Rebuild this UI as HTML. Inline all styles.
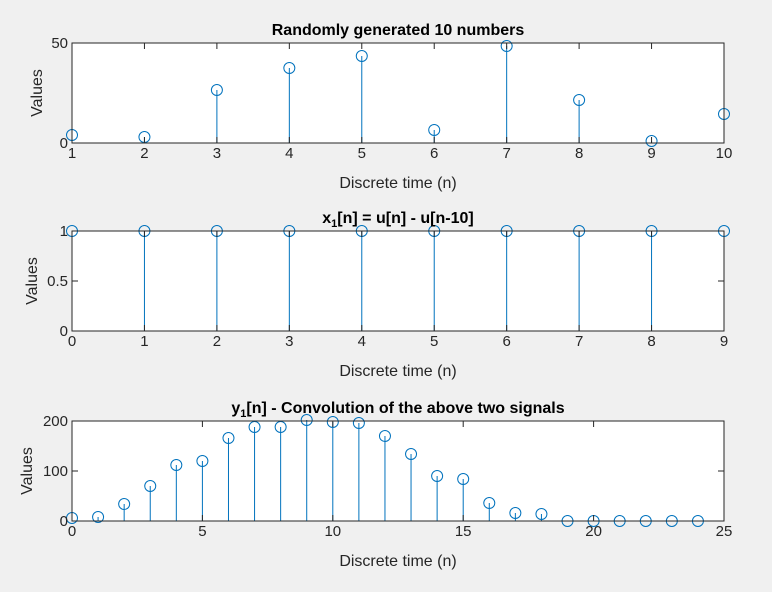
<!DOCTYPE html>
<html><head><meta charset="utf-8"><style>
body{margin:0;background:#f0f0f0;}
svg{display:block;font-family:"Liberation Sans",Arial,sans-serif;}
</style></head><body>
<svg id="c" width="772" height="592"></svg>
<script>
const p1N=[1,2,3,4,5,6,7,8,9,10];
const p1V=[4,3,26.5,37.5,43.5,6.5,48.5,21.5,1,14.5];
const p1XTicks=[1,2,3,4,5,6,7,8,9,10];
const p1YTicks=[0,50];
const p2N=[0,1,2,3,4,5,6,7,8,9];
const p2V=[1,1,1,1,1,1,1,1,1,1];
const p2XTicks=[0,1,2,3,4,5,6,7,8,9];
const p2YTicks=[0,0.5,1];
const p3N=[0,1,2,3,4,5,6,7,8,9,10,11,12,13,14,15,16,17,18,19,20,21,22,23,24];
const p3V=[6,8,34,70,112,120,166,188,188,202,198,196,170,134,90,84,36,16,14,0,0,0,0,0,0];
const p3XTicks=[0,5,10,15,20,25];
const p3YTicks=[0,100,200];
const NS="http://www.w3.org/2000/svg";
const svg=document.getElementById('c');
function el(t,a,parent){const e=document.createElementNS(NS,t);for(const k in a)e.setAttribute(k,a[k]);(parent||svg).appendChild(e);return e;}
function plot(o){
  const L=72,R=724,T=o.top,B=o.top+100;
  const g=el('g',{});
  
  
  const sx=v=>L+(v-o.xmin)/(o.xmax-o.xmin)*(R-L);
  const sy=v=>B-(v-o.ymin)/(o.ymax-o.ymin)*(B-T);
  const bg=el('rect',{x:L,y:T,width:R-L,height:B-T,fill:'#fff'},g);
  
  
  o.n.forEach((n,i)=>{
    const st=el('line',{x1:sx(n),x2:sx(n),y1:sy(0),y2:sy(o.v[i]),stroke:'#0072bd','stroke-width':1},g);
    
    
    const m=el('circle',{cx:sx(n),cy:sy(o.v[i]),r:5.5,fill:'none',stroke:'#0072bd','stroke-width':1},g);
    
    
  });
  el('rect',{x:L,y:T,width:R-L,height:B-T,fill:'none',stroke:'#262626','stroke-width':1},g);
  o.xt.forEach(t=>{
    el('line',{x1:sx(t),x2:sx(t),y1:B,y2:B-6,stroke:'#262626'},g);
    el('line',{x1:sx(t),x2:sx(t),y1:T,y2:T+6,stroke:'#262626'},g);
    const tx=el('text',{x:sx(t),y:B+15,'text-anchor':'middle','font-size':15,fill:'#262626'},g);
    tx.textContent=t;
    
    
  });
  o.yt.forEach(t=>{
    el('line',{x1:L,x2:L+6,y1:sy(t),y2:sy(t),stroke:'#262626'},g);
    el('line',{x1:R,x2:R-6,y1:sy(t),y2:sy(t),stroke:'#262626'},g);
    const tx=el('text',{x:L-4,y:sy(t)+5,'text-anchor':'end','font-size':15,fill:'#262626'},g);
    tx.textContent=t;
    
    
  });
  const xl=el('text',{x:(L+R)/2,y:B+45,'text-anchor':'middle','font-size':16,fill:'#262626'},g);
  xl.textContent='Discrete time (n)';
  
  
  const yl=el('text',{x:0,y:0,'text-anchor':'middle','font-size':16,fill:'#262626',transform:`translate(${o.ylx},${(T+B)/2}) rotate(-90)`},g);
  yl.textContent='Values';
  
  
  const ti=el('text',{x:(L+R)/2,y:T-8,'text-anchor':'middle','font-size':16,'font-weight':'bold',fill:'#000'},g);
  ti.innerHTML=o.title;
  
  
}
plot({name:'random-numbers-plot',top:43,n:p1N,v:p1V,xt:p1XTicks,yt:p1YTicks,xmin:1,xmax:10,ymin:0,ymax:50,ylx:42,title:'Randomly generated 10 numbers'});
plot({name:'x1-plot',top:231,n:p2N,v:p2V,xt:p2XTicks,yt:p2YTicks,xmin:0,xmax:9,ymin:0,ymax:1,ylx:37,title:'x<tspan font-size="11" dy="4">1</tspan><tspan dy="-4">[n] = u[n] - u[n-10]</tspan>'});
plot({name:'y1-plot',top:421,n:p3N,v:p3V,xt:p3XTicks,yt:p3YTicks,xmin:0,xmax:25,ymin:0,ymax:200,ylx:32,title:'y<tspan font-size="11" dy="4">1</tspan><tspan dy="-4">[n] - Convolution of the above two signals</tspan>'});
</script>
</body></html>
